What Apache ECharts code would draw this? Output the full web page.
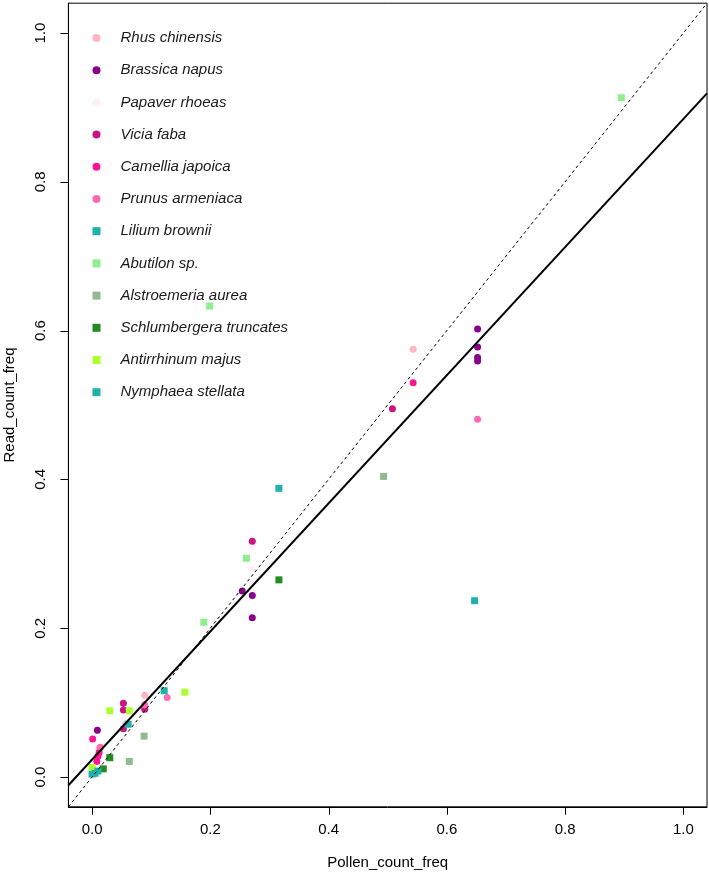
<!DOCTYPE html>
<html>
<head>
<meta charset="utf-8">
<script src="https://cdn.jsdelivr.net/npm/echarts@6/dist/echarts.min.js"></script>
<style>
html,body{margin:0;padding:0;background:#fff;}
#chart{width:709px;height:876px;}
</style>
</head>
<body>
<div id="chart"></div>
<script>
// ---- data ----
const speciesNames = ['Rhus chinensis','Brassica napus','Papaver rhoeas','Vicia faba','Camellia japoica','Prunus armeniaca','Lilium brownii','Abutilon sp.','Alstroemeria aurea','Schlumbergera truncates','Antirrhinum majus','Nymphaea stellata'];
const speciesColors = ['#FFB6C1','#8B008B','#FFF0F5','#C71585','#FF1493','#FF69B4','#20B2AA','#90EE90','#8FBC8F','#228B22','#ADFF2F','#20B2AA'];
const speciesShapes = ['circle','circle','circle','circle','circle','circle','rect','rect','rect','rect','rect','rect'];

const rhusChinensis = [[0.543,0.575],[0.089,0.110],[0.057,0.072],[0.012,0.038]];
const brassicaNapus = [[0.652,0.602],[0.652,0.578],[0.652,0.564],[0.652,0.559],[0.254,0.250],[0.271,0.244],[0.271,0.214],[0.009,0.063]];
const papaverRhoeas = [[0.271,0.310],[0.271,0.279],[0.271,0.260],[0.055,0.078]];
const viciaFaba = [[0.508,0.495],[0.271,0.317],[0.053,0.099],[0.053,0.090],[0.089,0.091],[0.053,0.065]];
const camelliaJapoica = [[0.543,0.530],[0.001,0.051],[0.008,0.021],[0.010,0.028],[0.012,0.033]];
const prunusArmeniaca = [[0.652,0.481],[0.127,0.107],[0.089,0.097],[0.014,0.040]];
const liliumBrownii = [[0.647,0.237],[0.316,0.388],[0.061,0.071],[0.000,0.004]];
const abutilonSp = [[0.895,0.913],[0.199,0.633],[0.261,0.294],[0.189,0.208]];
const alstroemeriaAurea = [[0.493,0.404],[0.088,0.055],[0.063,0.021]];
const schlumbergeraTruncates = [[0.316,0.265],[0.030,0.026],[0.019,0.011]];
const antirrhinumMajus = [[0.157,0.114],[0.030,0.089],[0.063,0.089],[0.000,0.013]];
const nymphaeaStellata = [[0.122,0.116],[0.005,0.005],[0.010,0.008]];

const speciesData = [rhusChinensis,brassicaNapus,papaverRhoeas,viciaFaba,camelliaJapoica,prunusArmeniaca,liliumBrownii,abutilonSp,alstroemeriaAurea,schlumbergeraTruncates,antirrhinumMajus,nymphaeaStellata];

const tickValues = [0,0.2,0.4,0.6,0.8,1.0];
const axisMin = -0.04, axisMax = 1.04;
const fitIntercept = 0.0234, fitSlope = 0.861;

// ---- build ----
const scatterSeries = speciesNames.map((n,i)=>({
  name:n, type:'scatter', symbol:speciesShapes[i], symbolSize:7,
  itemStyle:{color:speciesColors[i], opacity:1}, data:speciesData[i], z:2,
  emphasis:{disabled:true}
}));

const fitLine = [axisMin, axisMax].map(x=>[x, fitIntercept + fitSlope*x]);
const oneToOne = [axisMin, axisMax].map(x=>[x, x]);

const chart = echarts.init(document.getElementById('chart'));
const font = 'Liberation Sans, Arial, Helvetica, sans-serif';
chart.setOption({
  animation:false,
  textStyle:{fontFamily:font},
  grid:{left:68.4, right:2, top:3.2, bottom:69.2, show:true, borderColor:'#000', borderWidth:1, outerBoundsMode:'none'},
  xAxis:{
    type:'value', min:axisMin, max:axisMax,
    name:'Pollen_count_freq', nameLocation:'middle', nameGap:49,
    nameTextStyle:{fontSize:15, color:'#000', fontFamily:font},
    axisLine:{show:true, onZero:false, lineStyle:{color:'#000', width:1}},
    axisTick:{show:false},
    axisLabel:{show:true, fontSize:15, color:'#000', margin:16, fontFamily:font, customValues:tickValues, formatter:v=>v.toFixed(1)},
    splitLine:{show:false}
  },
  yAxis:{
    type:'value', min:axisMin, max:axisMax,
    name:'Read_count_freq', nameLocation:'middle', nameGap:51, nameRotate:90,
    nameTextStyle:{fontSize:15, color:'#000', fontFamily:font},
    axisLine:{show:true, onZero:false, lineStyle:{color:'#000', width:1}},
    axisTick:{show:false},
    axisLabel:{show:true, fontSize:15, color:'#000', margin:20, rotate:90, fontFamily:font, customValues:tickValues, formatter:v=>v.toFixed(1)},
    splitLine:{show:false}
  },
  legend:{
    orient:'vertical', left:87.5, top:25, itemWidth:8, itemHeight:8, itemGap:16.2,
    selectedMode:false,
    textStyle:{fontSize:15, fontStyle:'italic', color:'#1a1a1a', fontFamily:font, lineHeight:16, padding:[0,0,0,15]},
    data:speciesNames.map((n,i)=>({name:n, icon:speciesShapes[i], itemStyle:{color:speciesColors[i]}}))
  },
  series:[
    ...scatterSeries,
    {type:'line', data:fitLine, symbol:'none', lineStyle:{color:'#000', width:2}, z:5, silent:true},
    {type:'line', data:oneToOne, symbol:'none', lineStyle:{color:'#000', width:1, type:[3,3]}, z:5, silent:true}
  ]
});

// tick marks placed through the chart's own scales
const TICK_LEN = 8;
const yBottom = chart.convertToPixel({yAxisIndex:0}, axisMin);
const xLeft = chart.convertToPixel({xAxisIndex:0}, axisMin);
const tickGraphics = [];
tickValues.forEach(v=>{
  const px = Math.round(chart.convertToPixel({xAxisIndex:0}, v)) + 0.5;
  tickGraphics.push({type:'line', silent:true, z:100,
    shape:{x1:px, y1:yBottom, x2:px, y2:yBottom+TICK_LEN}, style:{stroke:'#000', lineWidth:1}});
  const py = Math.round(chart.convertToPixel({yAxisIndex:0}, v)) + 0.5;
  tickGraphics.push({type:'line', silent:true, z:100,
    shape:{x1:xLeft, y1:py, x2:xLeft-TICK_LEN, y2:py}, style:{stroke:'#000', lineWidth:1}});
});
chart.setOption({graphic:{elements:tickGraphics}});
</script>
</body>
</html>
